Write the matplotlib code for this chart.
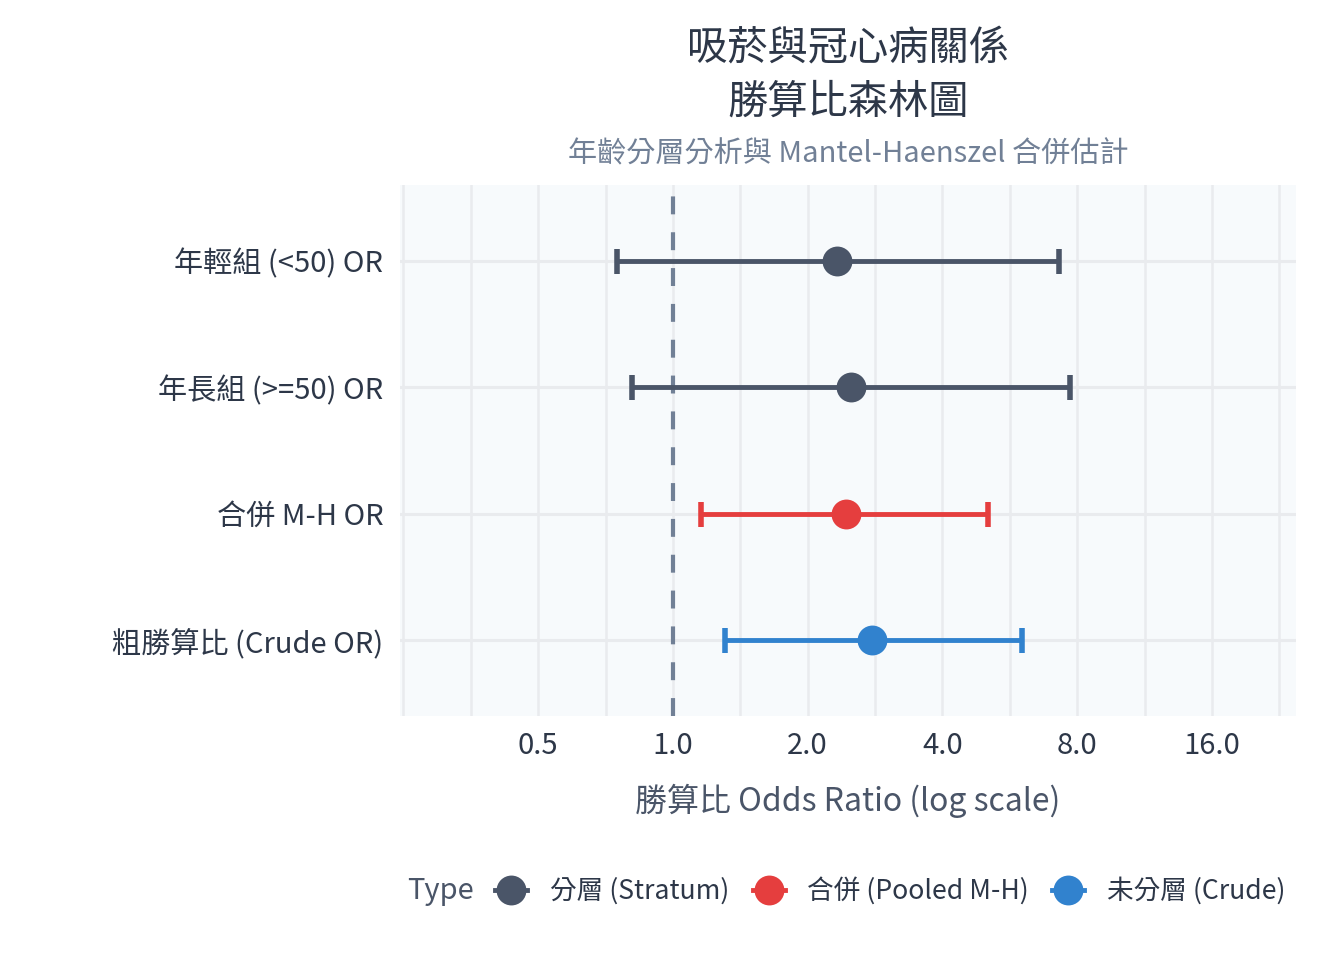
import matplotlib
matplotlib.use("Agg")
import matplotlib.pyplot as plt
from matplotlib.lines import Line2D
import numpy as np

plt.rcParams['font.family'] = ['Noto Sans CJK TC', 'DejaVu Sans']

# ---- data ----
labels = ["年輕組 (<50) OR", "年長組 (>=50) OR", "合併 M-H OR", "粗勝算比 (Crude OR)"]
or_vals = [2.33, 2.50, 2.43, 2.79]
ci_low = [0.75, 0.81, 1.157, 1.31]
ci_high = [7.30, 7.72, 5.07, 6.02]
types = ["分層 (Stratum)", "分層 (Stratum)", "合併 (Pooled M-H)", "未分層 (Crude)"]
type_order = ["分層 (Stratum)", "合併 (Pooled M-H)", "未分層 (Crude)"]
type_colors = {"分層 (Stratum)": "#4a5568", "合併 (Pooled M-H)": "#e53e3e", "未分層 (Crude)": "#3182ce"}
x_breaks = [0.5, 1.0, 2.0, 4.0, 8.0, 16.0]
x_break_labels = ["0.5", "1.0", "2.0", "4.0", "8.0", "16.0"]

title = "吸菸與冠心病關係\n勝算比森林圖"
subtitle = "年齡分層分析與 Mantel-Haenszel 合併估計"
xlabel = "勝算比 Odds Ratio (log scale)"

# ---- figure ----
fig = plt.figure(figsize=(13.44, 9.6), dpi=100)
ax = fig.add_axes([400/1344, 1-716/960, (1296-400)/1344, (716-185)/960])
ax.set_facecolor("#f7fafc")

ax.set_xscale('log', base=2)
ax.set_xlim(2**-2.025, 2**4.624)
ax.set_ylim(4.6, 0.4)

# gridlines
grid_col = "#e9ebee"
for k in range(-6, 12):
    v = 2 ** (k / 2)
    ax.axvline(v, color=grid_col, lw=1.8, zorder=0)
ypos = np.arange(1, len(labels) + 1)
for y in ypos:
    ax.axhline(y, color=grid_col, lw=2.2, zorder=0)

ax.axvline(1.0, color="#718096", lw=3.0, ls=(0, (4.3, 4.3)), zorder=1)

for i, (lab, o, lo, hi, t) in enumerate(zip(labels, or_vals, ci_low, ci_high, types)):
    c = type_colors[t]
    ax.errorbar([o], [ypos[i]], xerr=[[o - lo], [hi - o]], fmt='none',
                ecolor=c, elinewidth=3.5, capsize=9, capthick=4.0, zorder=3)
    ax.plot([o], [ypos[i]], 'o', color=c, markersize=21.5, markeredgewidth=0, zorder=4)

ax.set_yticks(ypos)
ax.set_yticklabels(labels)
ax.set_xticks(x_breaks)
ax.set_xticklabels(x_break_labels)
ax.xaxis.set_minor_locator(matplotlib.ticker.NullLocator())
ax.tick_params(axis='both', length=0, labelsize=21, colors="#2d3748")
ax.tick_params(axis='y', pad=12)
ax.tick_params(axis='x', pad=11)
for s in ax.spines.values():
    s.set_visible(False)

ax.set_xlabel(xlabel, fontsize=23, color="#4a5568", labelpad=16)

cx = (400 + 1296) / 2 / 1344
fig.text(cx, 1 - 75.5/960, title, ha='center', va='center', fontsize=29,
         color="#2d3748", linespacing=1.38)
fig.text(cx, 1 - 154/960, subtitle, ha='center', va='center', fontsize=21,
         color="#718096")

# legend
handles = [Line2D([0], [0], color=type_colors[t], lw=3.5, marker='o', markersize=21.5,
                  markeredgewidth=0) for t in type_order]
fig.text(407/1344, 1 - 891/960, "Type", ha='left', va='center', fontsize=21, color="#4a5568")
leg = fig.legend(handles, type_order, loc='center left', bbox_to_anchor=(495/1344, 1 - 891/960),
                 ncol=3, frameon=False, fontsize=19.2, handlelength=1.2, handletextpad=0.85,
                 columnspacing=0.88, borderaxespad=0, borderpad=0)
for txt in leg.get_texts():
    txt.set_color("#2d3748")

fig.savefig("out.png", dpi=100, facecolor="white")
